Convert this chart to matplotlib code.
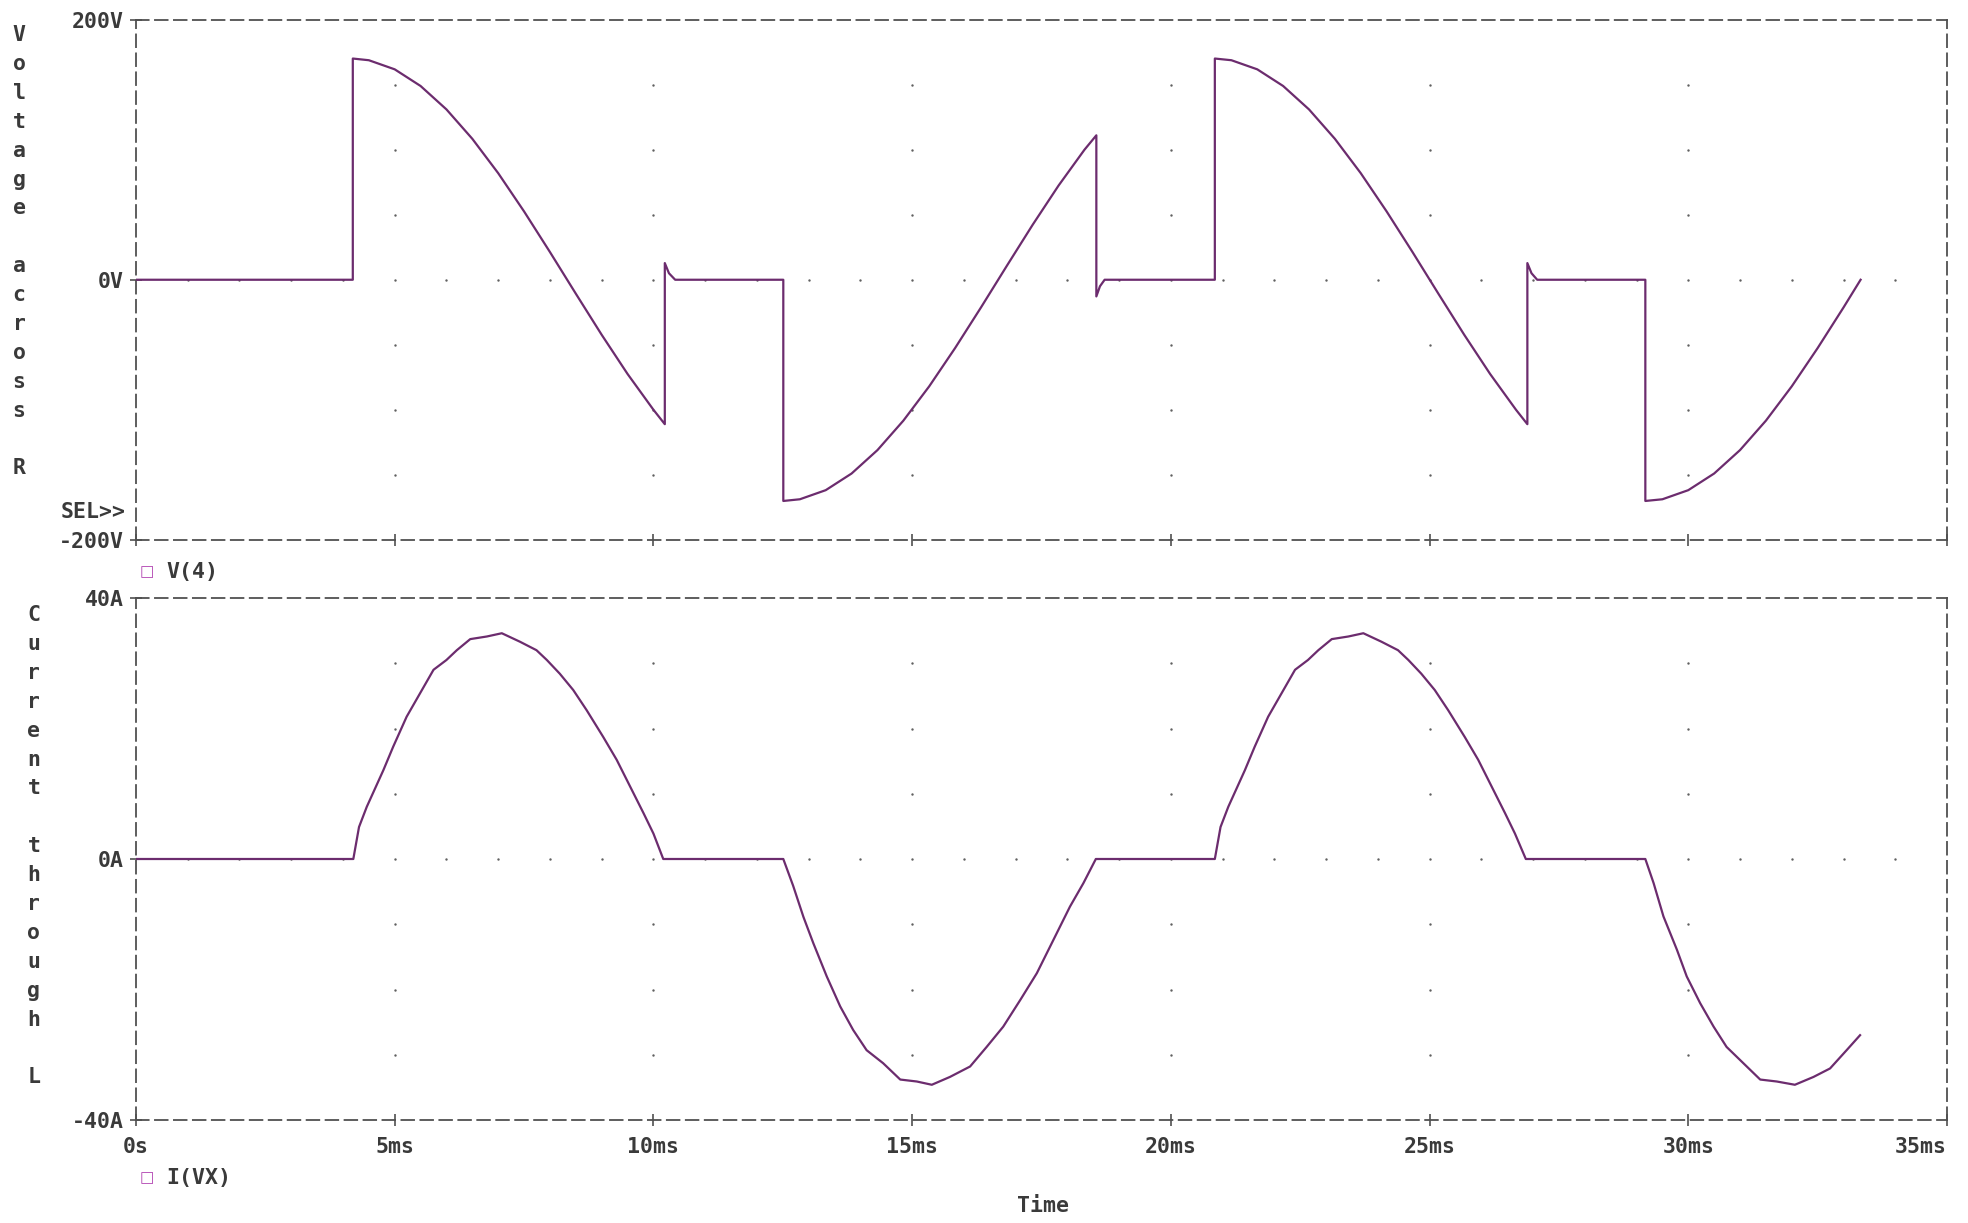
import matplotlib
matplotlib.use('Agg')
import matplotlib.pyplot as plt

# ---------------- DATA (time in ms) ----------------
t_v = [0, 4.19, 4.19, 4.5, 5.0, 5.5, 6.0, 6.5, 7.0, 7.5, 8.0, 8.5, 9.0, 9.5, 10.0, 10.22,
       10.22, 10.30, 10.42, 12.51, 12.51, 12.83, 13.33, 13.83, 14.33, 14.83, 15.33, 15.83,
       16.33, 16.83, 17.33, 17.83, 18.33, 18.56, 18.56, 18.63, 18.72, 20.85, 20.85, 21.17,
       21.67, 22.17, 22.67, 23.17, 23.67, 24.17, 24.67, 25.17, 25.67, 26.17, 26.67, 26.89,
       26.89, 26.97, 27.08, 29.17, 29.17, 29.5, 30.0, 30.5, 31.0, 31.5, 32.0, 32.5, 33.0, 33.33]
v_r = [0, 0, 170.0, 168.7, 161.7, 148.9, 130.9, 108.3, 81.9, 52.5, 21.3, -10.7, -42.3, -72.4,
       -99.9, -111.0, 12.8, 5.0, 0, 0, -170.0, -168.7, -161.7, -148.9, -130.9, -108.3, -81.9,
       -52.5, -21.3, 10.7, 42.3, 72.4, 99.9, 111.0, -12.8, -5.0, 0, 0, 170.0, 168.7, 161.7,
       148.9, 130.9, 108.3, 81.9, 52.5, 21.3, -10.7, -42.3, -72.4, -99.9, -111.0, 12.8, 5.0,
       0, 0, -170.0, -168.7, -161.7, -148.9, -130.9, -108.3, -81.9, -52.5, -21.3, 0]

t_i = [0,
       4.20, 4.31, 4.46, 4.78, 4.97, 5.23, 5.49, 5.75, 6.00, 6.20, 6.46, 6.78, 7.07, 7.42, 7.74,
       7.94, 8.19, 8.45, 8.71, 9.03, 9.29, 9.55, 9.81, 10.00, 10.19,
       12.51, 12.70, 12.90, 13.09, 13.35, 13.61, 13.86, 14.12, 14.44, 14.77, 15.09, 15.38, 15.73,
       16.12, 16.44, 16.76, 17.09, 17.41, 17.73, 18.05, 18.31, 18.55,
       20.85, 20.96, 21.11, 21.43, 21.62, 21.88, 22.14, 22.40, 22.65, 22.85, 23.11, 23.43, 23.72,
       24.07, 24.39, 24.59, 24.84, 25.10, 25.36, 25.68, 25.94, 26.20, 26.46, 26.65, 26.86,
       29.17, 29.33, 29.52, 29.78, 29.97, 30.23, 30.49, 30.74, 31.00, 31.39, 31.71, 32.06, 32.42,
       32.74, 33.06, 33.32]
i_l = [0,
       0, 4.9, 8.0, 13.6, 17.2, 21.8, 25.4, 29.0, 30.5, 32.0, 33.7, 34.1, 34.6, 33.3, 32.0,
       30.5, 28.4, 25.9, 22.8, 18.7, 15.2, 11.1, 7.0, 3.9, 0,
       0, -4.1, -8.9, -12.9, -18.0, -22.6, -26.2, -29.3, -31.3, -33.8, -34.1, -34.6, -33.4,
       -31.8, -28.8, -25.7, -21.6, -17.5, -12.4, -7.3, -3.7, 0,
       0, 4.9, 8.0, 13.6, 17.2, 21.8, 25.4, 29.0, 30.5, 32.0, 33.7, 34.1, 34.6,
       33.3, 32.0, 30.5, 28.4, 25.9, 22.8, 18.7, 15.2, 11.1, 7.0, 3.9, 0,
       0, -3.7, -8.8, -13.9, -18.0, -22.1, -25.7, -28.8, -30.8, -33.8, -34.1, -34.6, -33.4,
       -32.1, -29.3, -27.0]

x_ticks = [0, 5, 10, 15, 20, 25, 30, 35]
x_labels = ['0s', '5ms', '10ms', '15ms', '20ms', '25ms', '30ms', '35ms']
v_ticks = [-200, 0, 200]
v_labels = ['-200V', '0V', '200V']
i_ticks = [-40, 0, 40]
i_labels = ['-40A', '0A', '40A']
v_grid = [-150, -100, -50, 50, 100, 150]
i_grid = [-30, -20, -10, 10, 20, 30]
x_grid = [5, 10, 15, 20, 25, 30]
x_fine = list(range(1, 35))

# ---------------- STYLE ----------------
LINE = '#6c2c6e'
AXC = '#505050'
TXT = '#3a3a3a'
MARK = '#b040b0'
FONT = 'DejaVu Sans Mono'
FS = 15.5

W, H = 1968, 1223
fig = plt.figure(figsize=(W / 100, H / 100), dpi=100)
fig.patch.set_facecolor('white')

def px(x, y):
    return x / W, 1 - y / H

L, R = 136, 1947
ax1 = fig.add_axes([L / W, 1 - 540 / H, (R - L) / W, (540 - 19.5) / H])
ax2 = fig.add_axes([L / W, 1 - 1120 / H, (R - L) / W, (1120 - 598) / H])

def style(ax, yt, yl, yg, lim, xlab):
    ax.set_xlim(0, 35)
    ax.set_ylim(-lim, lim)
    for s in ax.spines.values():
        s.set_linestyle((0, (7, 3.5)))
        s.set_linewidth(1.3)
        s.set_color(AXC)
    ax.set_yticks(yt)
    ax.set_yticklabels(yl, fontfamily=FONT, fontweight='bold', fontsize=FS, color=TXT)
    ax.set_xticks(x_ticks)
    if xlab:
        ax.set_xticklabels(x_labels, fontfamily=FONT, fontweight='bold', fontsize=FS, color=TXT)
        ax.get_xticklabels()[-1].set_horizontalalignment('right')
    else:
        ax.set_xticklabels([])
    ax.tick_params(direction='inout', length=9, width=1.2, color=AXC, pad=4)
    ax.tick_params(axis='x', pad=8)
    # dotted grid
    gx = [x for x in x_grid for _ in yg]
    gy = [y for _ in x_grid for y in yg]
    ax.scatter(gx, gy, s=3, color='#606060', zorder=1, linewidths=0)
    ax.scatter(x_fine, [0] * len(x_fine), s=3, color='#606060', zorder=1, linewidths=0)

style(ax1, v_ticks, v_labels, v_grid, 200, False)
style(ax2, i_ticks, i_labels, i_grid, 40, True)

ax1.plot(t_v, v_r, color=LINE, lw=1.6, zorder=3)
ax2.plot(t_i, i_l, color=LINE, lw=1.6, zorder=3)

# ---------------- TEXT ----------------
def column(word, x, y0):
    for k, ch in enumerate(word):
        if ch != ' ':
            fig.text(*px(x, y0 + k * 28.9), ch, fontfamily=FONT, fontweight='bold',
                     fontsize=FS, color=TXT, ha='center', va='center')

column('Voltage across R', 19, 35)
column('Current through L', 34, 615)

fig.text(*px(126, 512), 'SEL>>', fontfamily=FONT, fontweight='bold', fontsize=FS,
         color=TXT, ha='right', va='center')

for y, name in [(572, 'V(4)'), (1178, 'I(VX)')]:
    fig.text(*px(147, y), '\u25a1', fontfamily='DejaVu Sans', fontsize=11, color=MARK,
             ha='center', va='center')
    fig.text(*px(166, y), name, fontfamily=FONT, fontweight='bold', fontsize=FS,
             color=TXT, ha='left', va='center')

fig.text(*px(1043, 1206), 'Time', fontfamily=FONT, fontweight='bold', fontsize=FS,
         color=TXT, ha='center', va='center')

fig.savefig('out.png', dpi=100, facecolor='white')
